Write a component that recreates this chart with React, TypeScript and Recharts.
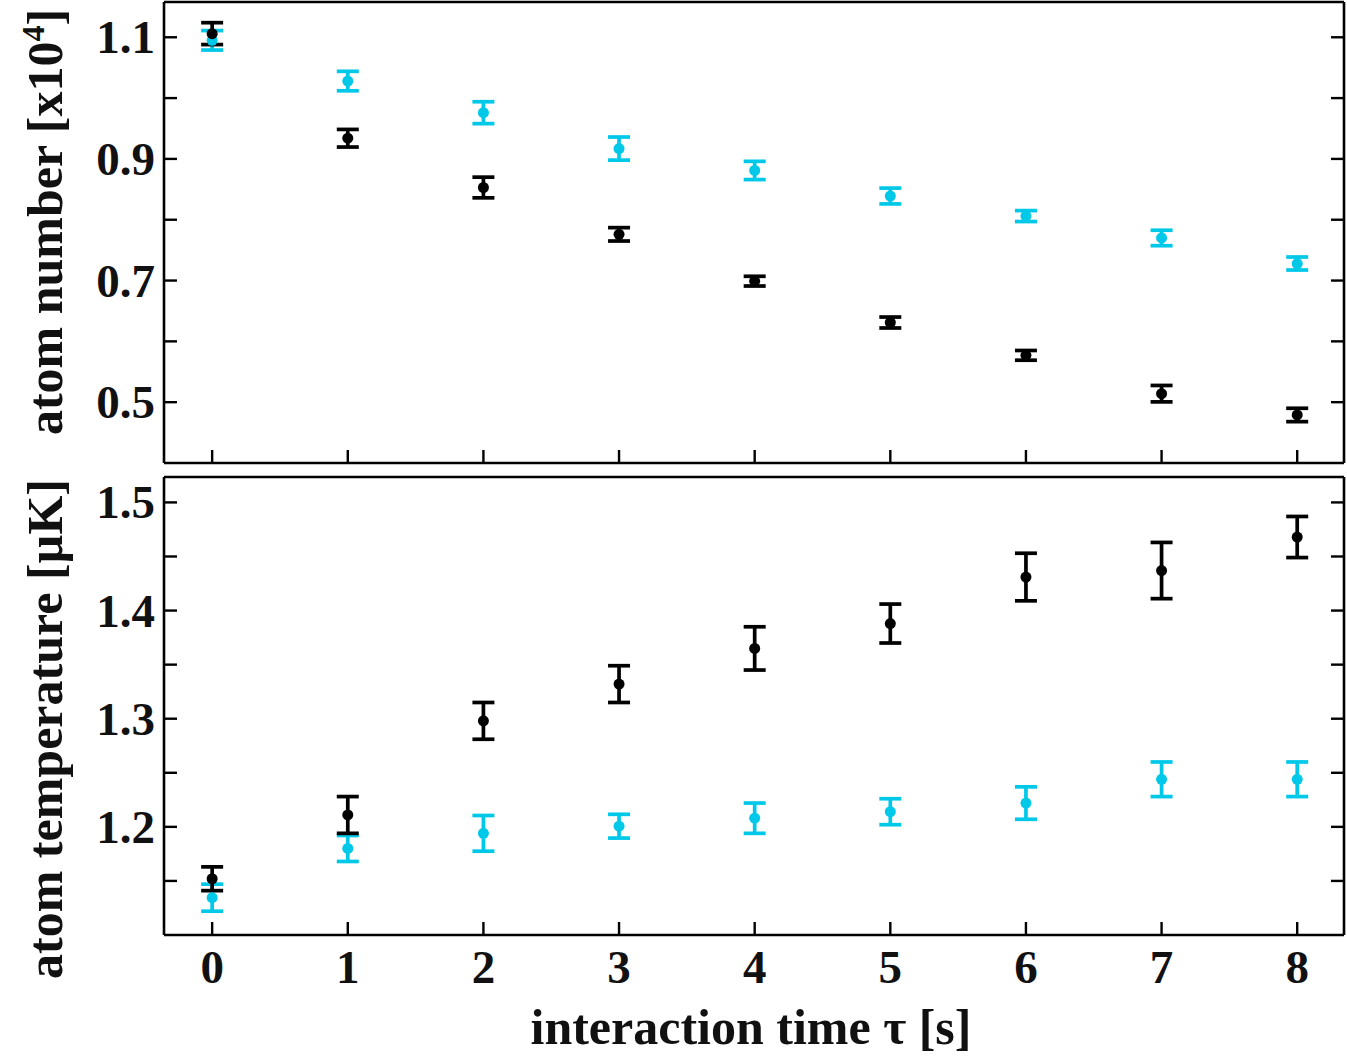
import React from "react";
import { ScatterChart, Scatter, ErrorBar, XAxis, YAxis, Label } from "recharts";

const times = [0, 1, 2, 3, 4, 5, 6, 7, 8];

// atom number [x10^4]
const numberBlack = [1.106, 0.934, 0.853, 0.776, 0.699, 0.631, 0.577, 0.514, 0.479];
const numberBlackErr = [0.018, 0.0145, 0.017, 0.011, 0.008, 0.009, 0.008, 0.0135, 0.011];
const numberCyan = [1.095, 1.028, 0.976, 0.917, 0.881, 0.839, 0.806, 0.77, 0.728];
const numberCyanErr = [0.016, 0.016, 0.018, 0.019, 0.015, 0.013, 0.009, 0.0127, 0.0107];

// atom temperature [µK]
const tempBlack = [1.152, 1.211, 1.298, 1.332, 1.365, 1.388, 1.431, 1.437, 1.468];
const tempBlackErr = [0.011, 0.017, 0.017, 0.017, 0.02, 0.018, 0.022, 0.026, 0.019];
const tempCyan = [1.1345, 1.18, 1.194, 1.2006, 1.208, 1.214, 1.222, 1.244, 1.244];
const tempCyanErr = [0.0125, 0.012, 0.0165, 0.011, 0.014, 0.012, 0.015, 0.016, 0.016];

const xTicks = times;
const xTickLabels = ["0", "1", "2", "3", "4", "5", "6", "7", "8"];
const numberTicks = [0.5, 0.6, 0.7, 0.8, 0.9, 1.0, 1.1];
const numberTickLabels = ["0.5", "", "0.7", "", "0.9", "", "1.1"];
const tempTicks = [1.15, 1.2, 1.25, 1.3, 1.35, 1.4, 1.45, 1.5];
const tempTickLabels = ["", "1.2", "", "1.3", "", "1.4", "", "1.5"];

const CYAN = "#00c8e8";
const FONT = "'Liberation Serif', 'Times New Roman', serif";
const TICK = 13;
const AXIS = { stroke: "#000", strokeWidth: 2.6 };
const X_DOMAIN: [number, number] = [-0.355, 8.345];

const rows = (vals: number[], errs: number[]) =>
  times.map((t, i) => ({ t, v: vals[i], e: errs[i] }));

const dot = (color: string) => (p: any) => (
  <circle cx={p.cx} cy={p.cy} r={5.5} fill={color} />
);

// ticks point into the plot on every side
const leftTick = (labels: string[]) => (p: any) => (
  <g>
    <line x1={p.x} y1={p.y} x2={p.x + TICK} y2={p.y} stroke="#000" strokeWidth={2.4} />
    {labels[p.index] ? (
      <text
        x={p.x - 9}
        y={p.y}
        textAnchor="end"
        dominantBaseline="central"
        fontFamily={FONT}
        fontWeight="bold"
        fontSize={47}
        fill="#111"
      >
        {labels[p.index]}
      </text>
    ) : null}
  </g>
);

const rightTick = (p: any) => (
  <line x1={p.x} y1={p.y} x2={p.x - TICK} y2={p.y} stroke="#000" strokeWidth={2.4} />
);

const topTick = (p: any) => (
  <line x1={p.x} y1={p.y} x2={p.x} y2={p.y + TICK} stroke="#000" strokeWidth={2.4} />
);

const bottomTick = (labels: string[] | null) => (p: any) => (
  <g>
    <line x1={p.x} y1={p.y} x2={p.x} y2={p.y - TICK} stroke="#000" strokeWidth={2.4} />
    {labels ? (
      <text
        x={p.x}
        y={p.y + 32}
        textAnchor="middle"
        dominantBaseline="central"
        fontFamily={FONT}
        fontWeight="bold"
        fontSize={47}
        fill="#111"
      >
        {labels[p.index]}
      </text>
    ) : null}
  </g>
);

export default function App() {
  return (
    <div style={{ position: "absolute", left: 0, top: 0, width: 1347, height: 1058, background: "#fff" }}>
      <ScatterChart width={1347} height={470} margin={{ top: 0, right: 0, bottom: 0, left: 0 }}>
        <XAxis
          xAxisId="b"
          dataKey="t"
          type="number"
          domain={X_DOMAIN}
          ticks={xTicks}
          interval={0}
          allowDataOverflow
          height={7}
          tickSize={0}
          tickMargin={0}
          tickLine={false}
          axisLine={AXIS}
          tick={bottomTick(null)}
        />
        <XAxis
          xAxisId="t"
          orientation="top"
          type="number"
          domain={X_DOMAIN}
          ticks={xTicks}
          interval={0}
          allowDataOverflow
          height={2}
          tickSize={0}
          tickMargin={0}
          tickLine={false}
          axisLine={AXIS}
          tick={topTick}
        />
        <YAxis
          yAxisId="l"
          dataKey="v"
          type="number"
          domain={[0.4, 1.158]}
          ticks={numberTicks}
          interval={0}
          allowDataOverflow
          width={164}
          tickSize={0}
          tickMargin={0}
          tickLine={false}
          axisLine={AXIS}
          tick={leftTick(numberTickLabels)}
        >
          <Label
            content={() => (
              <text
                x={62}
                y={222}
                transform="rotate(-90, 62, 222)"
                textAnchor="middle"
                fontFamily={FONT}
                fontWeight="bold"
                fontSize={50}
                fill="#111"
              >
                atom number [x10<tspan dy={-18} fontSize={32}>4</tspan>
                <tspan dy={18}>]</tspan>
              </text>
            )}
          />
        </YAxis>
        <YAxis
          yAxisId="r"
          orientation="right"
          type="number"
          domain={[0.4, 1.158]}
          ticks={numberTicks}
          interval={0}
          allowDataOverflow
          width={3}
          tickSize={0}
          tickMargin={0}
          tickLine={false}
          axisLine={AXIS}
          tick={rightTick}
        />
        <Scatter xAxisId="b" yAxisId="l" data={rows(numberCyan, numberCyanErr)} fill={CYAN} shape={dot(CYAN)} isAnimationActive={false}>
          <ErrorBar dataKey="e" direction="y" width={11} stroke={CYAN} strokeWidth={3.7} isAnimationActive={false} />
        </Scatter>
        <Scatter xAxisId="b" yAxisId="l" data={rows(numberBlack, numberBlackErr)} fill="#000" shape={dot("#000")} isAnimationActive={false}>
          <ErrorBar dataKey="e" direction="y" width={11} stroke="#000" strokeWidth={3.7} isAnimationActive={false} />
        </Scatter>
      </ScatterChart>

      <ScatterChart width={1347} height={588} margin={{ top: 0, right: 0, bottom: 0, left: 0 }}>
        <XAxis
          xAxisId="b"
          dataKey="t"
          type="number"
          domain={X_DOMAIN}
          ticks={xTicks}
          interval={0}
          allowDataOverflow
          height={123}
          tickSize={0}
          tickMargin={0}
          tickLine={false}
          axisLine={AXIS}
          tick={bottomTick(xTickLabels)}
        >
          <Label
            content={() => (
              <text
                x={751}
                y={574}
                textAnchor="middle"
                fontFamily={FONT}
                fontWeight="bold"
                fontSize={50}
                fill="#111"
              >
                interaction time τ [s]
              </text>
            )}
          />
        </XAxis>
        <XAxis
          xAxisId="t"
          orientation="top"
          type="number"
          domain={X_DOMAIN}
          ticks={xTicks}
          interval={0}
          allowDataOverflow
          height={7}
          tickSize={0}
          tickMargin={0}
          tickLine={false}
          axisLine={AXIS}
          tick={topTick}
        />
        <YAxis
          yAxisId="l"
          dataKey="v"
          type="number"
          domain={[1.1, 1.5235]}
          ticks={tempTicks}
          interval={0}
          allowDataOverflow
          width={164}
          tickSize={0}
          tickMargin={0}
          tickLine={false}
          axisLine={AXIS}
          tick={leftTick(tempTickLabels)}
        >
          <Label
            content={() => (
              <text
                x={62}
                y={259}
                transform="rotate(-90, 62, 259)"
                textAnchor="middle"
                fontFamily={FONT}
                fontWeight="bold"
                fontSize={50}
                fill="#111"
              >
                atom temperature [µK]
              </text>
            )}
          />
        </YAxis>
        <YAxis
          yAxisId="r"
          orientation="right"
          type="number"
          domain={[1.1, 1.5235]}
          ticks={tempTicks}
          interval={0}
          allowDataOverflow
          width={3}
          tickSize={0}
          tickMargin={0}
          tickLine={false}
          axisLine={AXIS}
          tick={rightTick}
        />
        <Scatter xAxisId="b" yAxisId="l" data={rows(tempCyan, tempCyanErr)} fill={CYAN} shape={dot(CYAN)} isAnimationActive={false}>
          <ErrorBar dataKey="e" direction="y" width={11} stroke={CYAN} strokeWidth={3.7} isAnimationActive={false} />
        </Scatter>
        <Scatter xAxisId="b" yAxisId="l" data={rows(tempBlack, tempBlackErr)} fill="#000" shape={dot("#000")} isAnimationActive={false}>
          <ErrorBar dataKey="e" direction="y" width={11} stroke="#000" strokeWidth={3.7} isAnimationActive={false} />
        </Scatter>
      </ScatterChart>
    </div>
  );
}
